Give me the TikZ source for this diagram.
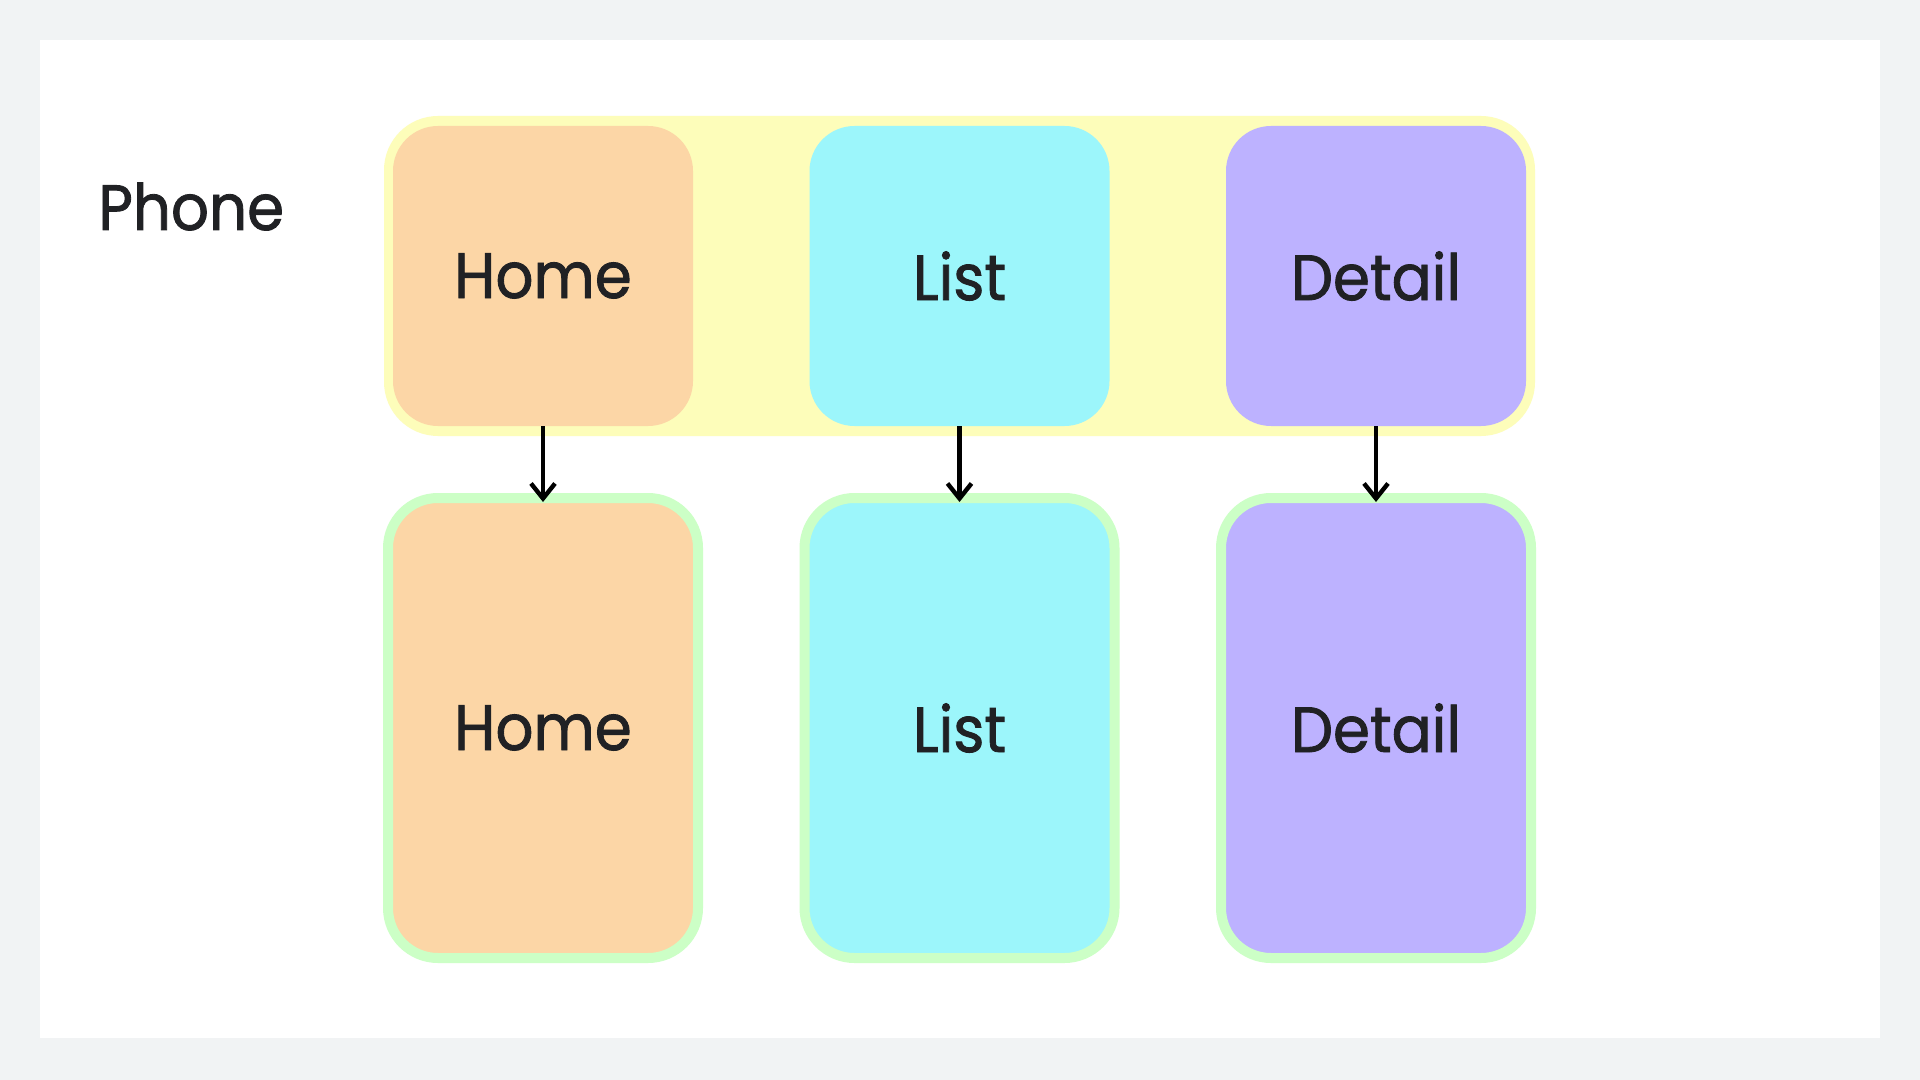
\documentclass[tikz,border=0pt]{standalone}
\usepackage{fontspec}
\setmainfont{Poppins}[FakeStretch=0.93, FakeBold=1.3]
\usetikzlibrary{arrows.meta}
\definecolor{bg}{HTML}{F1F3F4}
\definecolor{ink}{HTML}{202124}
\definecolor{peach}{HTML}{FCD6A6}
\definecolor{aqua}{HTML}{9CF6FB}
\definecolor{lilac}{HTML}{BDB2FF}
\definecolor{lemon}{HTML}{FDFDBA}
\definecolor{mint}{HTML}{CCFFC6}
\tikzset{
  screen/.style={rounded corners=22.5pt, minimum width=150pt, minimum height=150pt,
    inner sep=0pt, font=\fontsize{32}{38}\selectfont, text=ink},
  tallscreen/.style={rounded corners=25pt, minimum width=155pt, minimum height=230pt,
    inner sep=0pt, draw=mint, line width=5pt, font=\fontsize{32}{38}\selectfont, text=ink},
  group/.style={rounded corners=27pt, fill=lemon, inner sep=0pt},
  flow/.style={draw=black, line width=2.2pt, -{Straight Barb[length=7.5pt,width=12pt,line width=2.2pt]}, shorten >=-4.5pt}
}
\begin{document}
\begin{tikzpicture}[x=0.5pt,y=-0.5pt]
\useasboundingbox (0,0) rectangle (1920,1080);
\fill[bg] (0,0) rectangle (1920,1080);
\fill[white] (40,40) rectangle (1880,1038);
\node[group, minimum width=575.5pt, minimum height=160pt] (grp) at (959.5,276) {};
\node[anchor=base west, inner sep=0pt, text=ink, font=\fontsize{32}{38}\selectfont] (phone) at (98,230) {Phone};
\node[screen, fill=peach] (h1) at (543,276) {Home};
\node[screen, fill=aqua] (l1) at (959.5,276) {List};
\node[screen, fill=lilac] (d1) at (1376,276) {Detail};
\node[tallscreen, fill=peach] (h2) at (543,728) {Home};
\node[tallscreen, fill=aqua] (l2) at (959.5,728) {List};
\node[tallscreen, fill=lilac] (d2) at (1376,728) {Detail};
\draw[flow] (h1.south) -- (h2.north);
\draw[flow] (l1.south) -- (l2.north);
\draw[flow] (d1.south) -- (d2.north);
\end{tikzpicture}
\end{document}
